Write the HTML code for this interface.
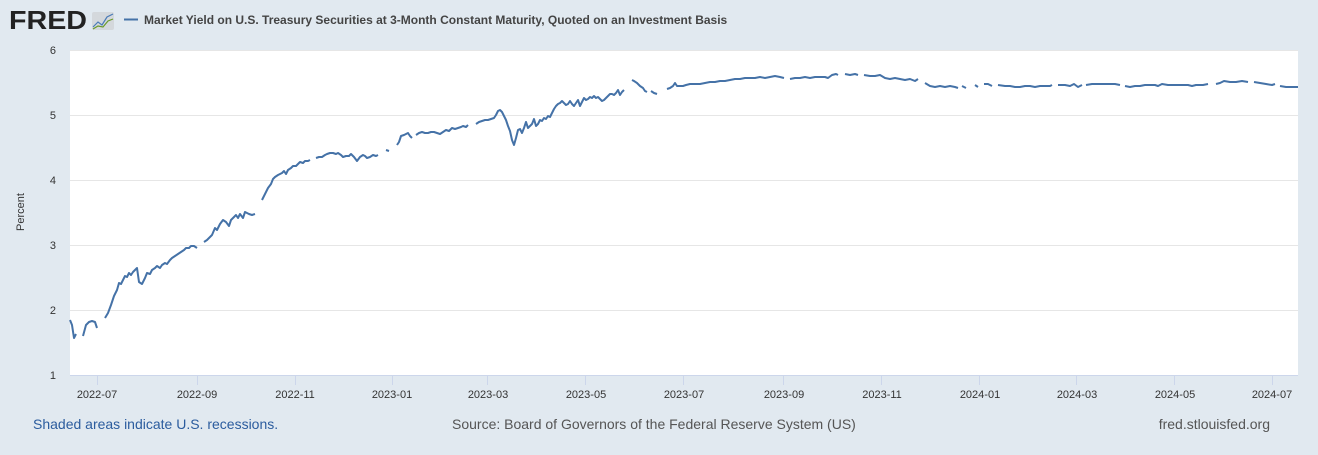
<!DOCTYPE html>
<html><head><meta charset="utf-8"><style>
body{margin:0;background:#e1e9f0;width:1318px;height:450px;overflow:hidden;font-family:"Liberation Sans",Arial,sans-serif}
</style></head><body>
<svg width="1318" height="450" xmlns="http://www.w3.org/2000/svg" font-family="Liberation Sans, Arial, sans-serif">
<rect width="1318" height="450" fill="#e1e9f0"/>
<text x="9" y="29" font-size="26" font-weight="bold" fill="#222" textLength="78" lengthAdjust="spacingAndGlyphs">FRED</text>
<rect x="92" y="12" width="22" height="18" rx="2" fill="#d4d8dc"/>
<polyline points="93,27 98,22 102,25 107,17 113,14" fill="none" stroke="#4a7bb7" stroke-width="1.2"/>
<polyline points="93,29 98,26 103,27 108,21 113,19" fill="none" stroke="#6a9a2a" stroke-width="1.2"/>
<line x1="124" y1="19.5" x2="138" y2="19.5" stroke="#4572a7" stroke-width="2"/>
<text x="144" y="24" font-size="12" font-weight="bold" fill="#444">Market Yield on U.S. Treasury Securities at 3-Month Constant Maturity, Quoted on an Investment Basis</text>
<rect x="70" y="50" width="1228" height="325" fill="#fff"/>
<g stroke="#e6e6e6" stroke-width="1">
<line x1="70" y1="50.5" x2="1298" y2="50.5"/><line x1="70" y1="115.5" x2="1298" y2="115.5"/><line x1="70" y1="180.5" x2="1298" y2="180.5"/><line x1="70" y1="245.5" x2="1298" y2="245.5"/><line x1="70" y1="310.5" x2="1298" y2="310.5"/>
</g>
<line x1="70" y1="375.5" x2="1298" y2="375.5" stroke="#ccd6eb"/>
<g stroke="#ccd6eb"><line x1="97.5" y1="375" x2="97.5" y2="385"/><line x1="197.5" y1="375" x2="197.5" y2="385"/><line x1="295.5" y1="375" x2="295.5" y2="385"/><line x1="392.5" y1="375" x2="392.5" y2="385"/><line x1="487.5" y1="375" x2="487.5" y2="385"/><line x1="585.5" y1="375" x2="585.5" y2="385"/><line x1="683.5" y1="375" x2="683.5" y2="385"/><line x1="783.5" y1="375" x2="783.5" y2="385"/><line x1="881.5" y1="375" x2="881.5" y2="385"/><line x1="979.5" y1="375" x2="979.5" y2="385"/><line x1="1076.5" y1="375" x2="1076.5" y2="385"/><line x1="1174.5" y1="375" x2="1174.5" y2="385"/><line x1="1272.5" y1="375" x2="1272.5" y2="385"/></g>
<g font-size="11" fill="#333" text-anchor="end">
<text x="56" y="54">6</text><text x="56" y="119">5</text><text x="56" y="184">4</text><text x="56" y="249">3</text><text x="56" y="314">2</text><text x="56" y="379">1</text></g>
<text x="24" y="212" font-size="11" fill="#333" text-anchor="middle" transform="rotate(-90 24 212)">Percent</text>
<g font-size="11" fill="#333" text-anchor="middle">
<text x="97" y="398">2022-07</text><text x="197" y="398">2022-09</text><text x="295" y="398">2022-11</text><text x="392" y="398">2023-01</text><text x="488" y="398">2023-03</text><text x="586" y="398">2023-05</text><text x="684" y="398">2023-07</text><text x="784" y="398">2023-09</text><text x="882" y="398">2023-11</text><text x="980" y="398">2024-01</text><text x="1077" y="398">2024-03</text><text x="1175" y="398">2024-05</text><text x="1272" y="398">2024-07</text></g>
<g fill="none" stroke="#4572a7" stroke-width="2" stroke-linejoin="round">
<polyline points="70,320 72,325 74,338 76,334"/>
<polyline points="83,336 86,325 89,322 92,321 95,322 97,328"/>
<polyline points="105,318 108,313 111,305 114,296 117,290 119,283 121,284 123,280 125,276 127,277 129,273 131,275 133,272 135,270 137,268 139,282 142,284 145,278 147,273 150,274 152,270 155,268 157,266 160,268 162,265 165,263 167,264 170,260 172,258 175,256 178,254 181,252 184,250 186,248 189,248 191,246 194,246 197,248"/>
<polyline points="204,242 207,240 209,238 212,235 215,228 217,230 220,224 223,220 226,222 229,226 231,220 233,218 236,215 238,218 240,214 243,218 245,212 247,213 249,214 252,215 255,214"/>
<polyline points="262,200 264,196 266,192 268,188 271,184 273,179 275,177 278,175 280,174 282,173 284,171 286,174 288,170 291,168 293,166 296,166 298,164 300,162 303,163 305,161 308,161 310,160"/>
<polyline points="316,158 319,157 322,157 325,155 327,154 330,153 333,153 336,154 338,153 341,155 343,157 346,156 349,156 351,154 354,157 357,161 360,157 363,155 365,156 367,158 370,157 373,155 376,156 378,155"/>
<polyline points="386,150 389,151"/>
<polyline points="397,145 399,142 401,136 404,135 406,134 408,133 410,136 412,138"/>
<polyline points="416,135 419,133 422,132 425,133 428,133 431,132 434,132 437,133 440,134 443,132 446,130 449,131 452,128 455,129 458,128 461,127 463,126 466,127 468,125"/>
<polyline points="476,124 479,122 482,121 485,120 488,120 491,119 494,118 496,115 498,111 500,110 502,112 504,116 506,120 508,126 510,131 512,140 514,145 516,138 518,130 520,129 522,133 524,128 526,122 528,128 530,126 532,124 534,119 536,126 538,124 540,120 542,121 544,118 546,119 548,116 550,117 552,113 554,109 556,106 558,104 560,103 562,101 564,103 566,105 568,104 570,101 572,104 574,106 576,103 578,100 580,106 582,102 584,98 586,100 588,99 590,97 592,98 594,96 596,98 598,97 600,99 602,101 604,100 606,98 608,96 610,94 612,94 614,95 616,93 618,90 620,95 622,92 624,90"/>
<polyline points="632,80 634,81 637,83 640,86 643,88 645,91 647,92"/>
<polyline points="651,91 654,93 657,94"/>
<polyline points="667,89 670,88 673,86 675,83 677,86 680,86 683,86 686,85 690,84 695,84 700,84 705,83 710,82 715,82 720,81 725,81 730,80 735,79 740,79 745,78 750,78 755,78 760,77 765,78 770,77 775,76 780,77 784,78"/>
<polyline points="790,79 795,78 800,78 805,77 810,78 815,77 820,77 825,77 828,78 832,75 836,74 838,75"/>
<polyline points="845,74 850,75 855,74 858,75"/>
<polyline points="864,75 870,76 875,76 880,75 885,78 890,79 895,78 900,79 905,80 910,79 915,81 918,79"/>
<polyline points="925,83 930,86 935,87 940,86 945,87 950,86 955,87 958,88"/>
<polyline points="962,86 966,88"/>
<polyline points="975,85 978,87"/>
<polyline points="984,84 988,84 992,86"/>
<polyline points="998,85 1005,86 1010,86 1015,87 1020,87 1025,86 1030,86 1035,87 1040,86 1045,86 1050,86 1052,85"/>
<polyline points="1058,85 1065,85 1070,86 1074,84 1078,87 1082,85"/>
<polyline points="1086,85 1092,84 1100,84 1108,84 1115,84 1120,85"/>
<polyline points="1125,86 1130,87 1135,86 1140,86 1145,85 1150,85 1155,85 1158,86 1162,84 1168,85 1175,85 1182,85 1188,85 1192,86 1196,85 1203,85 1208,84"/>
<polyline points="1216,84 1220,83 1224,81 1230,82 1236,82 1242,81 1248,82"/>
<polyline points="1254,82 1260,83 1266,84 1272,85 1275,84"/>
<polyline points="1280,86 1286,87 1292,87 1298,87"/>
</g>
<text x="33" y="429" font-size="14" fill="#2b5c9e">Shaded areas indicate U.S. recessions.</text>
<text x="452" y="429" font-size="14" fill="#555">Source: Board of Governors of the Federal Reserve System (US)</text>
<text x="1270" y="429" font-size="14" fill="#555" text-anchor="end">fred.stlouisfed.org</text>
</svg>
</body></html>
